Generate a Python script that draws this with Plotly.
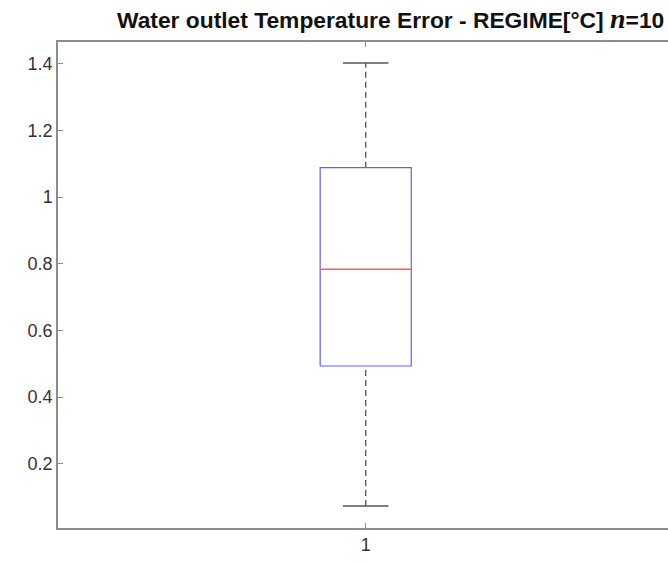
import plotly.graph_objects as go

# Data
categories = [1]
lower_whisker = [0.073]
q1 = [0.493]
median = [0.783]
q3 = [1.088]
upper_whisker = [1.402]
y_tick_vals = [0.2, 0.4, 0.6, 0.8, 1.0, 1.2, 1.4]
y_tick_text = ["0.2", "0.4", "0.6", "0.8", "1", "1.2", "1.4"]
x_tick_text = ["1"]

box_half = 0.074
cap_half = 0.037

fig = go.Figure()
for i, c in enumerate(categories):
    # whiskers (dashed)
    fig.add_trace(go.Scatter(x=[c, c], y=[q3[i], upper_whisker[i]], mode="lines",
                             line=dict(color="#555555", width=1.3, dash="6px,4px"),
                             hoverinfo="skip", showlegend=False))
    fig.add_trace(go.Scatter(x=[c, c], y=[lower_whisker[i], q1[i]], mode="lines",
                             line=dict(color="#555555", width=1.3, dash="6px,4px"),
                             hoverinfo="skip", showlegend=False))
    # caps
    for v in (upper_whisker[i], lower_whisker[i]):
        fig.add_trace(go.Scatter(x=[c - cap_half, c + cap_half], y=[v, v], mode="lines",
                                 line=dict(color="#555555", width=1.3),
                                 hoverinfo="skip", showlegend=False))
    # box
    fig.add_trace(go.Scatter(x=[c - box_half, c + box_half, c + box_half, c - box_half, c - box_half],
                             y=[q1[i], q1[i], q3[i], q3[i], q1[i]], mode="lines",
                             line=dict(color="#6464d8", width=1.2),
                             hoverinfo="skip", showlegend=False))
    # median
    fig.add_trace(go.Scatter(x=[c - box_half, c + box_half], y=[median[i], median[i]], mode="lines",
                             line=dict(color="#ff5a5a", width=1.5),
                             hoverinfo="skip", showlegend=False))

axis_col = "#8c8c8c"
fig.update_layout(
    width=668, height=563,
    margin=dict(l=58, r=0, t=42, b=35),
    paper_bgcolor="white", plot_bgcolor="white",
    font=dict(family="Liberation Sans, Arial", size=18, color="#333333"),
    title=dict(
        text="Water outlet Temperature Error - REGIME[°C] <span style=\"font-family:Liberation Serif;font-size:28px\"><i>n</i></span>=10",
        font=dict(family="Liberation Sans, Arial", size=22.8, color="#111111", weight="bold"),
        xref="container", yref="container",
        x=117 / 668, xanchor="left", y=1 - 20 / 563, yanchor="middle",
    ),
    xaxis=dict(range=[0.5, 1.4912], tickmode="array", tickvals=categories, ticktext=x_tick_text,
               showline=True, linecolor=axis_col, linewidth=1.5, mirror="ticks",
               ticks="inside", ticklen=5, tickcolor=axis_col, showgrid=False, zeroline=False,
               fixedrange=True),
    yaxis=dict(range=[0.007, 1.465], tickmode="array", tickvals=y_tick_vals, ticktext=y_tick_text,
               showline=True, linecolor=axis_col, linewidth=1.5, mirror=False,
               ticks="inside", ticklen=5, tickcolor=axis_col, showgrid=False, zeroline=False,
               fixedrange=True),
)

fig.write_html("out.html")
